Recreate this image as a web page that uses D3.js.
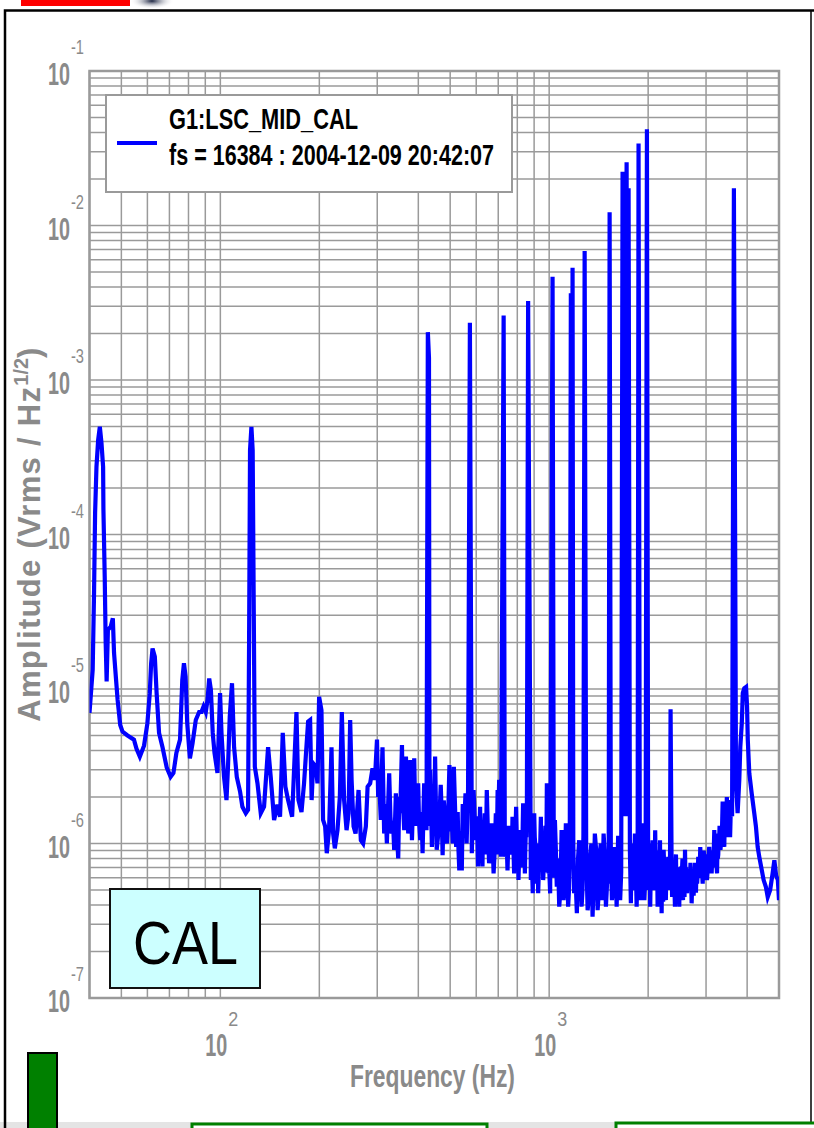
<!DOCTYPE html>
<html><head><meta charset="utf-8">
<script src="https://cdn.jsdelivr.net/npm/d3@7"></script>
<style>body{margin:0;background:#fff;} svg{display:block}</style>
</head><body>
<svg id="chart" width="814" height="1128"></svg>
<script>
// ---------------- DATA ----------------
// main trace samples (Hz, Vrms/sqrt(Hz))
const freqHz = [
40,40.9,41.3,41.6,42.0,42.5,43.0,43.5,44.0,44.1,44.5,44.8,45.1,45.5,46.4,47.1,47.5,48.1,48.7,49.6,
50.4,52.2,54.6,55.6,56.9,58.6,60.0,61.0,61.6,62.2,63.2,64.0,65.1,66.7,68.7,70.6,72.0,73.5,75.4,76.6,
77.5,78.4,79.3,80.8,82.3,84.2,86.2,87.6,88.9,90.3,91.4,92.5,93.6,94.8,96.0,98.0,99.8,100.8,102.6,104.4,
105.5,106.8,108.5,110.1,112.2,114.8,116.7,119.5,121.4,122.3,123.1,124.3,125.4,126.4,127.3,129.7,132.7,135.8,139.7,142.3,
145.7,149.1,151.9,154.8,157.7,160.7,165.3,170.4,172.8,176.5,179.7,181.9,184.9,187.5,189.5,191.6,195.3,197.4,199.7,203.0,
205.3,208.3,210.7,214.1,217.8,220.3,222.9,227.1,230.9,234.1,237.9,242.0,245.5,248.2,250.7,254.2,257.8,263.2,267.5,271.8,
277.0,280.4,285.5,290.3,295.1,299.5,304.0,307.6,311.3,314.9,320.9,326.2,331.6,337.8,341.8,347.5,352.4,356.7,362.4,366.8,
372.7,378.2,382.6,388.7,395.2,399.6,405.4,412.1,416.7,423.6,427.6,431.0,432.5,434.8,439.9,449.9,455.0,462.2,474.2,481.3,
497.3,505.8,513.0,521.4,533.0,542.4,550.6,556.6,566.7,574,581.8,589.0,598.3,607.8,616.5,626.9,637.0,646.1,656.6,667.8,
677.6,688.3,697.0,704.6,713.0,727,733.0,747.0,760.7,773.6,782.4,793.5,806.7,820.0,833.4,843.5,855.6,863,879.5,891.4,
900.5,913.0,925.9,943.5,958.9,970.3,984,996,1007,1024,1041,1055,1073,1091,1106,1124,1142,1155,1164,1171,
1178,1191,1214,1234,1255,1271,1282,1309,1333,1355,1377,1404,1426,1447,1464,1488,1509,1527,1552,1577,
1604,1621,1644,1672,1690,1720,1732,1744,1772,1791,1823,1845,1870,1901,1924,1948,1983,2000,2029,2063,
2101,2137,2173,2198,2229,2264,2302,2340,2373,2413,2447,2487,2517,2553,2589,2626,2667,2712,2762,2795,
2841,2881,2930,2977,3019,3068,3120,3178,3240,3277,3318,3370,3408,3470,3530,3570,3646,3700,3742,3786,
3813,3853,3880,3921,3970,3998,4018,4061,4130,4205,4254,4306,4355,4410,4490,4560,4620,4700,4780,4840,
4900,4960,5000
];
const amplitude = [
7.0e-6,1.33e-5,4.26e-5,1.38e-4,2.74e-4,4.09e-4,4.98e-4,3.91e-4,2.74e-4,1.44e-4,5.33e-5,1.99e-5,1.12e-5,2.41e-5,2.53e-5,2.87e-5,1.71e-5,1.20e-5,8.5e-6,5.85e-6,
5.3e-6,5.0e-6,4.7e-6,4.1e-6,3.65e-6,4.3e-6,6.0e-6,9.4e-6,1.47e-5,1.83e-5,1.62e-5,9.4e-6,5.2e-6,4.2e-6,3.1e-6,2.7e-6,2.86e-6,3.85e-6,4.7e-6,1.14e-5,
1.47e-5,1.2e-5,6.0e-6,3.56e-6,4.45e-6,6.3e-6,7.1e-6,7.1e-6,7.7e-6,7.1e-6,8.5e-6,1.17e-5,9.85e-6,5.2e-6,3.85e-6,2.86e-6,9.4e-6,5.2e-6,2.7e-6,1.91e-6,
3.14e-6,6.6e-6,1.09e-5,4.2e-6,2.7e-6,2.17e-6,1.73e-6,1.57e-6,1.65e-6,2.08e-5,3.52e-4,4.98e-4,3.52e-4,2.94e-5,3.14e-6,2.45e-6,1.57e-6,1.73e-6,4.2e-6,2.7e-6,
1.42e-6,1.78e-6,1.49e-6,5.2e-6,2.33e-6,1.91e-6,1.49e-6,7.1e-6,1.91e-6,1.6e-6,2.45e-6,3.65e-6,6.15e-6,6.3e-6,1.91e-6,3.3e-6,3.14e-6,2.45e-6,8.9e-6,7.3e-6,
1.42e-6,1.29e-6,8.65e-7,1.22e-6,4.2e-6,1.16e-6,9.3e-7,1.22e-6,2.0e-6,7.1e-6,1.91e-6,1.22e-6,1.57e-6,6.3e-6,2.58e-6,1.29e-6,1.16e-6,2.22e-6,1.05e-6,1.0e-6,
1.29e-6,2.33e-6,2.45e-6,3.07e-6,2.58e-6,4.7e-6,2.58e-6,1.42e-6,4.2e-6,1.16e-6,1.0e-6,2.85e-6,1.16e-6,9.1e-7,2.11e-6,8.0e-7,1.57e-6,4.34e-6,1.22e-6,3.65e-6,
1.16e-6,3.47e-6,1.05e-6,3.56e-6,1.57e-6,2.45e-6,1.05e-6,8.65e-7,2.45e-6,1.22e-6,2.04e-3,1.39e-3,1.3e-6,2.99e-6,9.5e-7,3.65e-6,9.1e-7,1.49e-6,8.4e-7,1.57e-6,
3.22e-6,1.42e-6,3.14e-6,9.5e-7,6.7e-7,6.7e-7,1.22e-6,2.11e-6,2.22e-6,2.35e-3,8.65e-7,2.22e-6,1.05e-6,7.1e-7,1.73e-6,7.1e-7,1.57e-6,2.22e-6,7.45e-7,1.35e-6,
6.4e-7,1.57e-6,2.22e-6,2.58e-6,8.2e-7,2.61e-3,8.2e-7,6.7e-7,1.22e-6,1.49e-6,6.4e-7,1.73e-6,5.8e-7,1.22e-6,1.82e-6,6.4e-7,1.73e-6,3.25e-3,5.8e-7,4.76e-7,
1.57e-6,5.5e-7,4.76e-7,1.49e-6,5.8e-7,1.05e-6,2.45e-6,6.4e-7,4.76e-7,4.66e-3,1.42e-6,5.25e-7,3.9e-7,1.22e-6,4.3e-7,1.35e-6,3.9e-7,8.0e-7,3.64e-3,1.0e-6,
5.33e-3,4.76e-7,3.54e-7,1.05e-6,3.9e-7,1.12e-6,6.84e-3,3.7e-7,8.2e-7,3.36e-7,1.16e-6,3.7e-7,8.65e-7,4.3e-7,1.16e-6,3.9e-7,8.2e-7,1.22e-2,4.3e-7,9.5e-7,
3.9e-7,1.12e-6,4.3e-7,2.23e-2,1.5e-6,2.57e-2,1.5e-6,1.74e-2,4.1e-7,6.7e-7,1.16e-6,3.9e-7,3.40e-2,4.3e-7,1.35e-6,4.3e-7,4.20e-2,7.1e-7,3.9e-7,1.05e-6,
1.22e-6,3.9e-7,1.05e-6,3.54e-7,9.1e-7,4.3e-7,8.2e-7,7.39e-6,6.4e-7,3.9e-7,6.4e-7,3.9e-7,7.1e-7,4.3e-7,9.1e-7,4.76e-7,6.7e-7,4.1e-7,6.4e-7,4.8e-7,
8.2e-7,9.5e-7,5.5e-7,7.8e-7,5.8e-7,9.5e-7,6.4e-7,1.22e-6,6.4e-7,1.16e-6,9.1e-7,1.87e-6,9.5e-7,2.0e-6,1.35e-6,1.91e-6,1.74e-2,2.45e-6,1.57e-6,2.58e-6,
4.2e-6,6.0e-6,9.4e-6,1.01e-5,1.03e-5,7.7e-6,4.7e-6,2.85e-6,2.11e-6,1.57e-6,1.29e-6,9.5e-7,8.2e-7,7.1e-7,5.8e-7,5.25e-7,4.5e-7,5.0e-7,6.4e-7,7.8e-7,
6.2e-7,5.8e-7,4.3e-7
];
// extra fine-structure samples inside the dense noise band (Hz, Vrms/sqrt(Hz))
const bandFreqHz = [
444,459,468,478,489,501,509,517,527,538,546,561,585,594,603,612,621,632,642,651,
662,672,683,693,708,740,754,767,778,788,800,813,827,838,849,885,896,907,919,935,
951,964,977,990,1033,1048,1064,1082,1098,1115,1133,1149,1184,1203,1224,1245,1263,1296,1321,1344,
1366,1390,1415,1436,1456,1476,1498,1517,1540,1564,1590,1612,1633,1656,1760,1781,1807,1834,1858,1886,
1912,1936,1965,2014,2046,2082,2119,2155,2186,2213,2246,2283,2320,2356,2393,2430,2467,2502,2535,2571,
2607,2647,2690,2737,2779,2818,2861,2905,2953,2998,3043,3094,3149,3209,3258,3298,3344,3389,3439,3500,
3550,3600
];
const bandAmplitude = [
1.8e-6,1.1e-6,2.4e-6,1.9e-6,1.0e-6,2.0e-6,1.0e-6,1.8e-6,1.6e-6,1.2e-6,1.8e-6,1.0e-6,1.5e-6,1.4e-6,1.5e-6,1.0e-6,1.2e-6,1.1e-6,8.5e-7,1.2e-6,
9.0e-7,1.1e-6,9.0e-7,8.5e-7,1.0e-6,1.1e-6,1.3e-6,9.0e-7,1.0e-6,1.0e-6,1.0e-6,9.0e-7,7.0e-7,1.0e-6,1.2e-6,8.0e-7,8.0e-7,1.0e-6,9.0e-7,7.5e-7,
8.5e-7,8.0e-7,6.5e-7,1.2e-6,6.0e-7,9.0e-7,8.0e-7,5.0e-7,9.0e-7,5.5e-7,9.5e-7,5.0e-7,1.0e-6,6.0e-7,8.0e-7,6.0e-7,5.0e-7,9.0e-7,4.5e-7,1.0e-6,
5.5e-7,9.0e-7,4.8e-7,1.0e-6,6.5e-7,8.5e-7,5.2e-7,5.5e-7,9.0e-7,5.0e-7,8.0e-7,6.0e-7,8.5e-7,6.5e-7,9.0e-7,1.0e-6,5.0e-7,7.5e-7,8.0e-7,9.5e-7,
5.5e-7,8.0e-7,7.0e-7,1.0e-6,5.5e-7,5.0e-7,8.0e-7,6.0e-7,7.5e-7,6.0e-7,6.5e-7,5.5e-7,5.0e-7,8.5e-7,7.5e-7,8.5e-7,5.5e-7,5.0e-7,6.8e-7,5.2e-7,
7.0e-7,5.0e-7,7.5e-7,5.2e-7,7.5e-7,5.5e-7,6.0e-7,7.8e-7,9.0e-7,6.5e-7,7.5e-7,8.0e-7,7.0e-7,9.5e-7,8.0e-7,1.3e-6,1.1e-6,1.4e-6,1.3e-6,1.6e-6,
1.1e-6,1.5e-6
];
// further samples filling the noise floor (Hz, Vrms/sqrt(Hz))
const floorFreqHz = [
302,309,318,329,335,344,350,359,364,370,375,380,385,392,402,409,420,447,452,464,
471,484,493,503,511,524,530,553,610,618,629,640,654,664,675,686,700,709,744,751,
757,764,771,776,785,797,803,810,817,824,831,841,846,852,882,888,893,904,910,916,
922,930,939,947,955,961,967,974,980,987,993,1000,2007,2022,2038,2055,2073,2092,2110,2128,
2146,2164,2180,2192,2206,2221,2238,2255,2273,2292,2311,2330,2365,2383,2403,2421,2439,2457,2477,2494,
2510,2526,2544,2562,2580,2598,2616,2637,2657,2679,2701,2725,2750,2770,2788,2806,2830,2850,2871,2893,
2918,2941,2965,2988,3008,3031,3055,3081,3107,3135,3163,3193,3225,3250,3268,3287,3308,3331,3357,3380,
3398,3422,3455,3485,3515,3540,3560,3585
];
const floorAmplitude = [
2.0e-6,2.5e-6,1.8e-6,1.5e-6,1.4e-6,1.2e-6,2.0e-6,1.9e-6,1.5e-6,1.8e-6,1.6e-6,1.9e-6,1.7e-6,1.3e-6,1.4e-6,1.6e-6,1.5e-6,1.2e-6,2.0e-6,1.5e-6,
1.6e-6,1.3e-6,1.5e-6,1.2e-6,1.5e-6,1.2e-6,9.0e-7,1.5e-6,1.2e-6,1.0e-6,1.3e-6,1.1e-6,9.5e-7,1.2e-6,8.5e-7,1.2e-6,1.4e-6,1.3e-6,9.0e-7,1.0e-6,
1.2e-6,8.5e-7,1.0e-6,1.2e-6,9.0e-7,1.1e-6,1.2e-6,8.0e-7,1.1e-6,9.5e-7,1.3e-6,1.2e-6,9.0e-7,1.1e-6,7.5e-7,6.5e-7,9.0e-7,1.1e-6,8.0e-7,6.5e-7,
1.0e-6,6.5e-7,9.5e-7,7.0e-7,1.1e-6,6.5e-7,9.0e-7,1.3e-6,7.0e-7,9.0e-7,1.0e-6,7.0e-7,5.0e-7,8.0e-7,7.0e-7,6.5e-7,7.5e-7,6.0e-7,6.0e-7,9.0e-7,
7.0e-7,5.0e-7,4.5e-7,8.0e-7,8.5e-7,4.2e-7,7.0e-7,8.0e-7,7.0e-7,6.5e-7,7.5e-7,6.0e-7,4.5e-7,6.0e-7,5.5e-7,6.0e-7,4.5e-7,7.0e-7,6.2e-7,6.5e-7,
5.8e-7,4.6e-7,8.0e-7,6.8e-7,4.5e-7,5.5e-7,5.8e-7,6.8e-7,5.5e-7,5.2e-7,6.0e-7,6.0e-7,4.6e-7,6.0e-7,6.2e-7,6.8e-7,6.5e-7,7.0e-7,7.0e-7,6.5e-7,
6.5e-7,7.2e-7,6.5e-7,8.5e-7,8.0e-7,6.5e-7,8.5e-7,7.2e-7,9.0e-7,8.5e-7,8.0e-7,9.0e-7,7.5e-7,1.0e-6,8.5e-7,1.0e-6,1.2e-6,1.0e-6,1.3e-6,1.2e-6,
1.1e-6,1.5e-6,1.1e-6,1.6e-6,1.5e-6,1.6e-6,1.4e-6,1.7e-6
];
const xDomain = [40, 5000];
const yDomain = [1e-7, 1e-1];
const xLabelExps = ["2", "3"];
const yLabelExps = ["-1", "-2", "-3", "-4", "-5", "-6", "-7"];
const legendLines = ["G1:LSC_MID_CAL", "fs = 16384 : 2004-12-09 20:42:07"];
const xTitle = "Frequency (Hz)";
const yTitleMain = "Amplitude (Vrms / Hz";
const yTitleSup = "1/2";
const badgeText = "CAL";

// ---------------- LAYOUT ----------------
const svg = d3.select("#chart");
const FONT = "'Liberation Sans', Arial, Helvetica, sans-serif";
const plot = {left: 89.5, right: 779, top: 71, bottom: 998};
const x = d3.scaleLog().domain(xDomain).range([plot.left, plot.right]);
const y = d3.scaleLog().domain(yDomain).range([plot.bottom, plot.top]);
const gridColor = "#9a9a9a";
const labelColor = "#8a8a8a";

// page decorations
svg.append("rect").attr("x", 21).attr("y", 0).attr("width", 109).attr("height", 6).attr("fill", "#ff0000");
const grad = svg.append("defs").append("radialGradient").attr("id", "lg");
grad.append("stop").attr("offset", "0%").attr("stop-color", "#1a2340");
grad.append("stop").attr("offset", "100%").attr("stop-color", "#ffffff").attr("stop-opacity", 0);
svg.append("ellipse").attr("cx", 152).attr("cy", 1).attr("rx", 22).attr("ry", 8).attr("fill", "url(#lg)");
svg.append("rect").attr("x", 0).attr("y", 1122).attr("width", 814).attr("height", 6).attr("fill", "#e4e4e4");
svg.append("path").attr("d", "M814,10.5 H5 V1128").attr("fill", "none").attr("stroke", "#000").attr("stroke-width", 2.5);
svg.append("line").attr("x1", 811).attr("x2", 811).attr("y1", 10).attr("y2", 1128).attr("stroke", "#000").attr("stroke-width", 1.5);
svg.append("rect").attr("x", 28).attr("y", 1053).attr("width", 29).attr("height", 80).attr("fill", "#008000").attr("stroke", "#000").attr("stroke-width", 2);
svg.append("rect").attr("x", 192).attr("y", 1124).attr("width", 295).attr("height", 20).attr("fill", "#fff").attr("stroke", "#008000").attr("stroke-width", 3);
svg.append("rect").attr("x", 616).attr("y", 1123).attr("width", 210).attr("height", 20).attr("fill", "#fff").attr("stroke", "#008000").attr("stroke-width", 3);

// grid
const g = svg.append("g");
g.selectAll("line.vx").data(x.ticks()).join("line")
  .attr("x1", d => x(d)).attr("x2", d => x(d)).attr("y1", plot.top).attr("y2", plot.bottom)
  .attr("stroke", gridColor).attr("stroke-width", 1.5);
g.selectAll("line.hy").data(y.ticks()).join("line")
  .attr("y1", d => y(d)).attr("y2", d => y(d)).attr("x1", plot.left).attr("x2", plot.right)
  .attr("stroke", gridColor).attr("stroke-width", 1.5);
g.append("rect").attr("x", plot.left).attr("y", plot.top)
  .attr("width", plot.right - plot.left).attr("height", plot.bottom - plot.top)
  .attr("fill", "none").attr("stroke", gridColor).attr("stroke-width", 2.5);

// tick labels (10^n)
yLabelExps.forEach(e => {
  const yy = y(Math.pow(10, +e));
  svg.append("text").attr("x", 48).attr("y", yy + 14).text("10")
    .attr("font-family", FONT).attr("font-weight", "bold").attr("font-size", 31).attr("fill", labelColor)
    .attr("textLength", 22).attr("lengthAdjust", "spacingAndGlyphs");
  svg.append("text").attr("x", 71).attr("y", yy - 17).text(e)
    .attr("font-family", FONT).attr("font-size", 20).attr("fill", labelColor)
    .attr("textLength", 13).attr("lengthAdjust", "spacingAndGlyphs");
});
xLabelExps.forEach(e => {
  const xx = x(Math.pow(10, +e));
  svg.append("text").attr("x", xx - 15).attr("y", 1056).text("10")
    .attr("font-family", FONT).attr("font-weight", "bold").attr("font-size", 31).attr("fill", labelColor)
    .attr("textLength", 22).attr("lengthAdjust", "spacingAndGlyphs");
  svg.append("text").attr("x", xx + 8).attr("y", 1026).text(e)
    .attr("font-family", FONT).attr("font-size", 21).attr("fill", labelColor)
    .attr("textLength", 10).attr("lengthAdjust", "spacingAndGlyphs");
});

// axis titles
svg.append("text").attr("transform", "translate(350,1087) scale(0.737,1)").text(xTitle)
  .attr("font-family", FONT).attr("font-weight", "bold").attr("font-size", 31).attr("fill", labelColor);
const yt = svg.append("text").attr("transform", "translate(40,534) rotate(-90)")
  .attr("text-anchor", "middle").attr("font-family", FONT).attr("font-weight", "bold")
  .attr("font-size", 31).attr("letter-spacing", 1.3).attr("fill", labelColor);
yt.append("tspan").text(yTitleMain);
yt.append("tspan").attr("dy", -12).attr("font-size", 20).attr("letter-spacing", 0).text(yTitleSup);
yt.append("tspan").attr("dy", 12).text(")");

// data line
svg.append("clipPath").attr("id", "clip").append("rect")
  .attr("x", plot.left).attr("y", plot.top).attr("width", plot.right - plot.left).attr("height", plot.bottom - plot.top);
const pts = d3.sort(
  freqHz.map((f, i) => [f, amplitude[i]])
    .concat(bandFreqHz.map((f, i) => [f, bandAmplitude[i]]))
    .concat(floorFreqHz.map((f, i) => [f, floorAmplitude[i]])),
  d => d[0]);
svg.append("path").datum(pts)
  .attr("clip-path", "url(#clip)")
  .attr("d", d3.line().x(d => x(d[0])).y(d => y(d[1])))
  .attr("fill", "none").attr("stroke", "#0000ff").attr("stroke-width", 4.2);

// legend
svg.append("rect").attr("x", 106).attr("y", 95).attr("width", 406).attr("height", 97)
  .attr("fill", "#fff").attr("stroke", "#9a9a9a").attr("stroke-width", 2);
svg.append("line").attr("x1", 117).attr("x2", 157).attr("y1", 143).attr("y2", 143)
  .attr("stroke", "#0000ff").attr("stroke-width", 4);
svg.append("text").attr("x", 169).attr("y", 129).text(legendLines[0])
  .attr("font-family", FONT).attr("font-weight", "bold").attr("font-size", 30).attr("fill", "#000")
  .attr("textLength", 189).attr("lengthAdjust", "spacingAndGlyphs");
svg.append("text").attr("x", 169).attr("y", 165).text(legendLines[1])
  .attr("font-family", FONT).attr("font-weight", "bold").attr("font-size", 30).attr("fill", "#000")
  .attr("textLength", 325).attr("lengthAdjust", "spacingAndGlyphs");

// CAL badge
svg.append("rect").attr("x", 110).attr("y", 889).attr("width", 150).attr("height", 99)
  .attr("fill", "#ccffff").attr("stroke", "#111").attr("stroke-width", 2);
svg.append("text").attr("x", 133).attr("y", 964).text(badgeText)
  .attr("font-family", FONT).attr("font-size", 62).attr("fill", "#000")
  .attr("textLength", 105).attr("lengthAdjust", "spacingAndGlyphs");
</script>
</body></html>
